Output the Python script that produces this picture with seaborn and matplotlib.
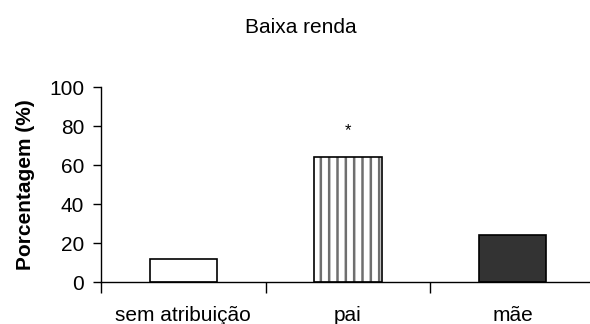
import matplotlib
matplotlib.use("Agg")
import matplotlib.pyplot as plt
import matplotlib.patches as mpatches
import seaborn as sns
import pandas as pd

categories = ["sem atribuição", "pai", "mãe"]
values = [12, 64, 24]
significance = ["", "*", ""]
title = "Baixa renda"
ylabel = "Porcentagem (%)"
yticks = [0, 20, 40, 60, 80, 100]

sns.set_theme(style="white")
plt.rcParams["font.family"] = ["Liberation Sans", "DejaVu Sans"]
plt.rcParams["text.color"] = "black"
plt.rcParams["axes.labelcolor"] = "black"
plt.rcParams["xtick.color"] = "black"
plt.rcParams["ytick.color"] = "black"
plt.rcParams["hatch.linewidth"] = 1.8

df = pd.DataFrame({"categoria": categories, "valor": values})

fig = plt.figure(figsize=(5.9, 3.24), dpi=100)
ax = fig.add_axes([101 / 590, 1 - 282 / 324, 494 / 590, (282 - 87.3) / 324])

sns.barplot(data=df, x="categoria", y="valor", ax=ax, width=0.41,
            color="white", edgecolor="black", linewidth=1.2, saturation=1)

faces = ["white", "white", "#333333"]
hatches = ["", "||", ""]
for patch, fc, h in list(zip(ax.patches, faces, hatches)):
    patch.set_facecolor(fc)
    if h:
        # grey hatch lines, with a black outline drawn on top
        patch.set_hatch(h)
        patch.set_edgecolor("#6f6f6f")
        patch.set_linewidth(0)
        outline = mpatches.Rectangle(patch.get_xy(), patch.get_width(), patch.get_height(),
                                     fill=False, edgecolor="black", linewidth=1.2,
                                     zorder=patch.get_zorder() + 0.1)
        ax.add_patch(outline)
    else:
        patch.set_edgecolor("black")

for i, (v, s) in enumerate(zip(values, significance)):
    if s:
        ax.text(i, v + 14, s, ha="center", va="center", fontsize=12, color="black")

ax.set_xlim(-0.5, 2.5)
ax.set_ylim(0, 100)
ax.set_yticks(yticks)
ax.set_yticklabels([str(t) for t in yticks], fontsize=15)
ax.set_xticks(range(len(categories)))
ax.set_xticklabels(categories, fontsize=15)
ax.tick_params(axis="x", length=0, pad=17)
ax.tick_params(axis="y", direction="out", length=6, width=1, color="black", left=True, pad=6)
# boundary ticks between categories
ax.set_xticks([-0.5, 0.5, 1.5, 2.5], minor=True)
ax.tick_params(axis="x", which="minor", direction="out", length=8, width=1, color="black", bottom=True)

ax.set_xlabel("")
ax.set_ylabel(ylabel, fontsize=15, fontweight="bold", labelpad=10)
ax.set_title(title, fontsize=15, pad=39, color="black", x=0.405)

for side in ["top", "right"]:
    ax.spines[side].set_visible(False)
for side in ["left", "bottom"]:
    ax.spines[side].set_color("black")
    ax.spines[side].set_linewidth(1)

fig.savefig("out.png", dpi=100, facecolor="white")
